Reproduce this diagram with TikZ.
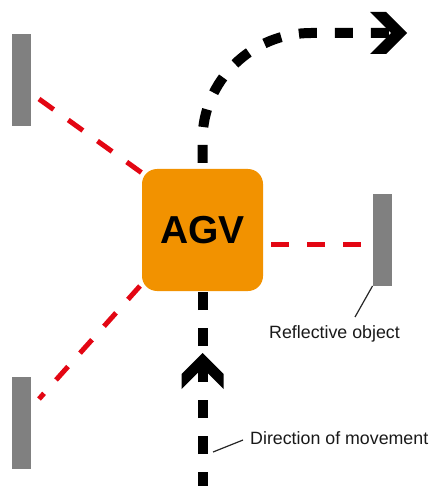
\documentclass[tikz,border=0pt]{standalone}
\usepackage{fontspec}
\setmainfont{Liberation Sans}
\definecolor{agvorange}{RGB}{242,146,0}
\definecolor{rayred}{RGB}{227,6,19}
\definecolor{wallgray}{RGB}{128,128,128}
\begin{document}
\begin{tikzpicture}[x=1pt,y=-1pt,
  wallbar/.style={fill=wallgray, draw=none, minimum width=19pt, minimum height=92pt, inner sep=0pt, outer sep=0pt},
  raydash/.style={draw=rayred, line width=5pt, dash pattern=on 18pt off 18pt},
  pathdash/.style={draw=black, line width=10pt, dash pattern=on 18pt off 18pt},
  chevron/.style={fill=black, draw=none},
  leader/.style={draw=black!85, line width=1.2pt},
  lbl/.style={font=\fontsize{17.8}{20}\selectfont, inner sep=0pt, text=black!90}]
\useasboundingbox (0,0) rectangle (432,486);

% reflective objects
\node[wallbar] (wTL) at (21.5,80) {};
\node[wallbar] (wBL) at (21.5,423) {};
\node[wallbar] (wR) at (382.5,239.5) {};

% AGV
\node[fill=agvorange, rounded corners=15pt, minimum width=121pt, minimum height=122pt,
      inner sep=0pt, outer sep=0pt, font=\bfseries\fontsize{39}{39}\selectfont] (agv) at (202.5,230) {AGV};

% red dashed rays
\coordinate (r1s) at (39,99);   \coordinate (r1e) at (142,173);
\coordinate (r2s) at (140,286); \coordinate (r2e) at (39,399);
\coordinate (r3s) at (271,244); \coordinate (r3e) at (362,244);
\draw[raydash] (r1s) -- (r1e);
\draw[raydash] (r2s) -- (r2e);
\draw[raydash] (r3s) -- (r3e);

% movement path (bottom)
\coordinate (bstart) at (202.5,490);
\draw[pathdash] (bstart) -- (agv.south);
% movement path (top, curving right)
\coordinate (tbend) at (202.5,140);
\coordinate (tc1) at (202.5,81);
\coordinate (tc2) at (251.5,33);
\coordinate (ttop) at (311,33);
\coordinate (tend) at (392,33);
\draw[pathdash, dash phase=30pt] (agv.north) -- (tbend) .. controls (tc1) and (tc2) .. (ttop) -- (tend);

% arrowheads
\fill[chevron] (407,33) -- (386,12) -- (370,12) -- (391,33) -- (370,54) -- (386,54) -- cycle;
\fill[chevron] (202.5,353) -- (223.5,374) -- (223.5,389) -- (202.5,368) -- (181.5,389) -- (181.5,374) -- cycle;

% labels
\node[lbl, anchor=base west] (lblR) at (269,338) {Reflective object};
\node[lbl, anchor=base west] (lblD) at (250,444) {Direction of movement};
\coordinate (lR1) at (372.5,286);
\coordinate (lR2) at (355,317);
\draw[leader] (lR1) -- (lR2);
\coordinate (lD1) at (213,452);
\coordinate (lD2) at (243,440);
\draw[leader] (lD1) -- (lD2);
\end{tikzpicture}
\end{document}
